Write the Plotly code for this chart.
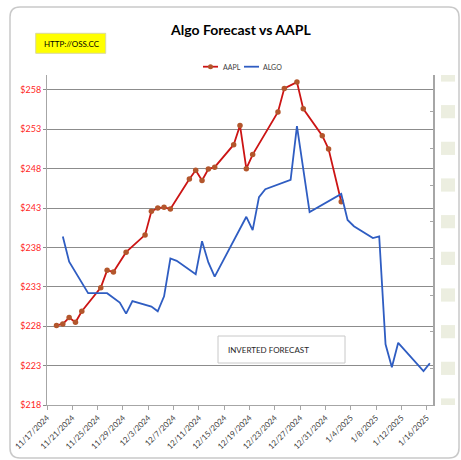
import plotly.graph_objects as go
import pandas as pd

# ---------------- data ----------------
aapl_dates = ["2024-11-18", "2024-11-19", "2024-11-20", "2024-11-21", "2024-11-22",
              "2024-11-25", "2024-11-26", "2024-11-27", "2024-11-29", "2024-12-02",
              "2024-12-03", "2024-12-04", "2024-12-05", "2024-12-06", "2024-12-09",
              "2024-12-10", "2024-12-11", "2024-12-12", "2024-12-13", "2024-12-16",
              "2024-12-17", "2024-12-18", "2024-12-19", "2024-12-23", "2024-12-24",
              "2024-12-26", "2024-12-27", "2024-12-30", "2024-12-31", "2025-01-02"]
aapl_close = [228.1, 228.3, 229.1, 228.5, 229.9,
              232.9, 235.1, 234.9, 237.4, 239.6,
              242.6, 243.0, 243.1, 242.9, 246.7,
              247.8, 246.5, 247.95, 248.2, 251.05,
              253.5, 248.0, 249.8, 255.2, 258.2,
              259.0, 255.6, 252.2, 250.5, 243.8]

algo_dates = ["2024-11-19", "2024-11-20", "2024-11-23", "2024-11-26", "2024-11-28",
              "2024-11-29", "2024-11-30", "2024-12-03", "2024-12-04", "2024-12-05",
              "2024-12-06", "2024-12-07", "2024-12-10", "2024-12-11", "2024-12-12",
              "2024-12-13", "2024-12-18", "2024-12-19", "2024-12-20", "2024-12-21",
              "2024-12-25", "2024-12-26", "2024-12-28", "2025-01-02", "2025-01-03",
              "2025-01-04", "2025-01-07", "2025-01-08", "2025-01-09", "2025-01-10",
              "2025-01-11", "2025-01-15", "2025-01-16"]
algo_values = [239.4, 236.2, 232.2, 232.2, 231.0,
               229.6, 231.2, 230.5, 229.9, 231.8,
               236.6, 236.3, 234.6, 238.8, 236.1,
               234.3, 241.9, 240.2, 244.4, 245.4,
               246.6, 253.4, 242.5, 244.8, 241.5,
               240.7, 239.2, 239.4, 225.7, 222.8,
               225.9, 222.3, 223.3]

y_ticks = [218, 223, 228, 233, 238, 243, 248, 253, 258]
x_tick_dates = ["2024-11-17", "2024-11-21", "2024-11-25", "2024-11-29", "2024-12-03",
                "2024-12-07", "2024-12-11", "2024-12-15", "2024-12-19", "2024-12-23",
                "2024-12-27", "2024-12-31", "2025-01-04", "2025-01-08", "2025-01-12",
                "2025-01-16"]
right_ticks = list(range(0, 10))

# ---------------- geometry helpers ----------------
W, H = 461, 460
L, R, T, B = 47, 433, 75, 405


def px(x):
    return (x - L) / (R - L)


def py(y):
    return (B - y) / (B - T)


half_day = pd.Timedelta(hours=12)
ax_dates = pd.to_datetime(aapl_dates) + half_day
al_dates = pd.to_datetime(algo_dates) + half_day
tick_dt = pd.to_datetime(x_tick_dates)

FONT = "Lato"

fig = go.Figure()
fig.add_trace(go.Scatter(
    x=ax_dates, y=aapl_close, mode="lines+markers", name="AAPL",
    line=dict(color="#CC1414", width=1.8),
    marker=dict(color="#B3562C", size=5.5, line=dict(width=0)),
    showlegend=False))
fig.add_trace(go.Scatter(
    x=al_dates, y=algo_values, mode="lines", name="ALGO",
    line=dict(color="#2F5DC2", width=1.8), showlegend=False))
fig.add_trace(go.Scatter(
    x=[tick_dt[0]], y=[0], yaxis="y2", mode="markers",
    marker=dict(opacity=0), showlegend=False, hoverinfo="skip"))

fig.update_layout(
    width=W, height=H,
    margin=dict(l=L, r=W - R, t=T, b=H - B, autoexpand=False),
    paper_bgcolor="white", plot_bgcolor="white",
    font=dict(family=FONT, color="#404040"),
    xaxis=dict(
        type="date", automargin=False,
        range=[tick_dt[0], tick_dt[0] + pd.Timedelta(days=61)],
        tickvals=tick_dt, tickformat="%-m/%-d/%Y", tickangle=-45,
        tickfont=dict(size=8, color="#404040", family=FONT),
        showgrid=False, zeroline=False,
        showline=True, linecolor="#A6A6A6", linewidth=1,
        ticks="outside", ticklen=4, tickcolor="#A6A6A6"),
    yaxis=dict(
        range=[218, 259.9], tickvals=y_ticks, automargin=False,
        ticktext=["$" + str(v) for v in y_ticks],
        tickfont=dict(size=9, color="#FF1F1F", family=FONT),
        showgrid=True, gridcolor="#8C8C8C", gridwidth=1,
        zeroline=False,
        showline=True, linecolor="#A6A6A6", linewidth=1,
        ticks="outside", ticklen=3, tickcolor="#8C8C8C"),
    yaxis2=dict(
        overlaying="y", side="right", range=[0, 9], automargin=False,
        tickvals=right_ticks, showticklabels=False,
        showgrid=False, zeroline=False,
        showline=True, linecolor="#A6A6A6", linewidth=1.5,
        ticks="inside", ticklen=3, tickcolor="#A6A6A6"),
)

shapes = []
# outer rounded chart frame
x0, y0, x1, y1, r = px(10), py(7), px(459), py(458), 10
rx = r / (R - L)
ry = r / (B - T)
path = (f"M {x0+rx},{y0} L {x1-rx},{y0} Q {x1},{y0} {x1},{y0-ry} "
        f"L {x1},{y1+ry} Q {x1},{y1} {x1-rx},{y1} "
        f"L {x0+rx},{y1} Q {x0},{y1} {x0},{y1+ry} "
        f"L {x0},{y0-ry} Q {x0},{y0} {x0+rx},{y0} Z")
shapes.append(dict(type="path", path=path, xref="paper", yref="paper",
                   line=dict(color="#C9C9C9", width=1.5), layer="below"))

# hidden right-axis label boxes
for k in right_ticks:
    shapes.append(dict(type="rect", xref="paper", yref="y2",
                       x0=px(441), x1=px(455), y0=k - 0.18, y1=k + 0.18,
                       fillcolor="#ECEEE0", line=dict(width=0)))

# yellow url box
shapes.append(dict(type="rect", xref="paper", yref="paper",
                   x0=px(35.7), x1=px(105.7), y0=py(53.3), y1=py(33.3),
                   fillcolor="#FFFF00", line=dict(color="#D9D9A0", width=1)))

# inverted forecast box
shapes.append(dict(type="rect", xref="paper", yref="paper",
                   x0=px(218), x1=px(345), y0=py(363), y1=py(336),
                   fillcolor="white", line=dict(color="#C8C8C8", width=1)))

# manual legend
shapes.append(dict(type="line", xref="paper", yref="paper",
                   x0=px(203), x1=px(218), y0=py(66.7), y1=py(66.7),
                   line=dict(color="#CC1414", width=1.8)))
shapes.append(dict(type="circle", xref="paper", yref="paper",
                   x0=px(208), x1=px(213), y0=py(69.2), y1=py(64.2),
                   fillcolor="#B3562C", line=dict(width=0)))
shapes.append(dict(type="line", xref="paper", yref="paper",
                   x0=px(244), x1=px(259), y0=py(66.7), y1=py(66.7),
                   line=dict(color="#2F5DC2", width=1.8)))
fig.update_layout(shapes=shapes)

ann = [
    dict(text="<b>Algo Forecast vs AAPL</b>", x=px(240), y=py(30), xref="paper", yref="paper",
         showarrow=False, font=dict(size=14, family=FONT, color="#000000"),
         xanchor="center", yanchor="middle"),
    dict(text="HTTP://OSS.CC", x=px(41.5), y=py(43.5), xref="paper", yref="paper",
         showarrow=False, font=dict(size=8, family=FONT, color="#000000"),
         xanchor="left", yanchor="middle"),
    dict(text="INVERTED FORECAST", x=px(226), y=py(349.5), xref="paper", yref="paper",
         showarrow=False, font=dict(size=8, family=FONT, color="#262626"),
         xanchor="left", yanchor="middle"),
    dict(text="AAPL", x=px(220.5), y=py(67), xref="paper", yref="paper",
         showarrow=False, font=dict(size=7, family=FONT, color="#404040"),
         xanchor="left", yanchor="middle"),
    dict(text="ALGO", x=px(260.5), y=py(67), xref="paper", yref="paper",
         showarrow=False, font=dict(size=7, family=FONT, color="#404040"),
         xanchor="left", yanchor="middle"),
]
fig.update_layout(annotations=ann)

fig.write_html("out.html",
               config={"displayModeBar": False},
               post_script="document.body.style.margin='0px';document.body.style.overflow='hidden';")
